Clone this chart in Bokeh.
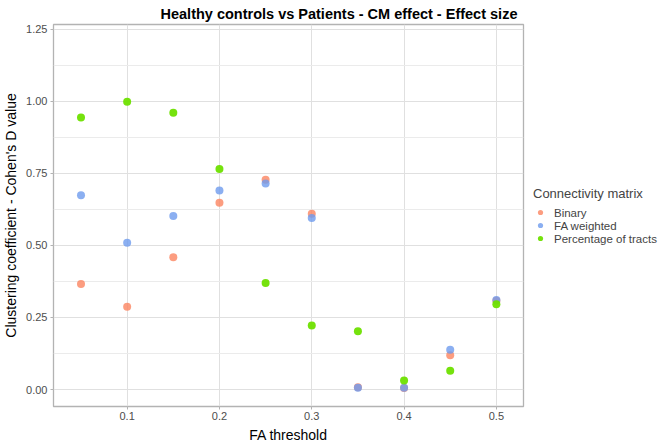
from bokeh.plotting import figure
from bokeh.models import (FixedTicker, PrintfTickFormatter, Legend, LegendItem, Range1d, Title)
from bokeh.embed import file_html
from bokeh.resources import INLINE

fa_threshold = [0.05, 0.1, 0.15, 0.2, 0.25, 0.3, 0.35, 0.4, 0.45, 0.5]
binary = [0.366, 0.287, 0.459, 0.648, 0.728, 0.610, 0.008, 0.005, 0.119, 0.308]
fa_weighted = [0.674, 0.509, 0.602, 0.691, 0.715, 0.595, 0.006, 0.006, 0.138, 0.311]
percentage = [0.944, 0.999, 0.961, 0.765, 0.370, 0.222, 0.202, 0.031, 0.065, 0.296]
series_names = ["Binary", "FA weighted", "Percentage of tracts"]
x_ticks = [0.1, 0.2, 0.3, 0.4, 0.5]
y_ticks = [0.0, 0.25, 0.5, 0.75, 1.0, 1.25]

colors = ["#FB8560", "#6E9BEE", "#6EE000"]
alphas = [0.8, 0.8, 0.95]

p = figure(frame_width=470, frame_height=382, output_backend="svg", toolbar_location=None,
           x_range=Range1d(0.0202, 0.5294), y_range=Range1d(-0.059, 1.267),
           min_border_left=0, min_border_right=0, min_border_top=0, min_border_bottom=0)

p.title = Title(text="Healthy controls vs Patients - CM effect - Effect size",
                text_font="Liberation Sans", text_font_size="14.5px", text_font_style="bold",
                text_color="#000000", align="left", offset=107, standoff=6)

rs = []
for ys, c, a in zip([binary, fa_weighted, percentage], colors, alphas):
    r = p.scatter(fa_threshold, ys, size=8, fill_color=c, line_color=None, fill_alpha=a)
    rs.append(r)

p.outline_line_color = "#B3B3B3"
p.outline_line_width = 1.3
p.background_fill_color = "white"
p.border_fill_color = "white"

p.xaxis.ticker = FixedTicker(ticks=x_ticks)
p.yaxis.ticker = FixedTicker(ticks=y_ticks, minor_ticks=[0.125, 0.375, 0.625, 0.875, 1.125])
p.xaxis.formatter = PrintfTickFormatter(format="%.1f")
p.yaxis.formatter = PrintfTickFormatter(format="%.2f")

for ax in (p.xaxis, p.yaxis):
    ax.axis_line_color = None
    ax.major_tick_line_color = "#B3B3B3"
    ax.major_tick_out = 3
    ax.major_tick_in = 0
    ax.minor_tick_line_color = None
    ax.major_label_text_font = "Liberation Sans"
    ax.major_label_text_font_size = "11px"
    ax.major_label_text_color = "#4D4D4D"
    ax.major_label_standoff = 2
    ax.axis_label_text_font = "Liberation Sans"
    ax.axis_label_text_font_size = "14px"
    ax.axis_label_text_font_style = "normal"
    ax.axis_label_text_color = "#000000"
    ax.axis_label_standoff = 4

p.xaxis.axis_label = "FA threshold"
p.yaxis.axis_label = "Clustering coefficient - Cohen's D value"

p.xgrid.grid_line_color = "#E0E0E0"
p.ygrid.grid_line_color = "#E0E0E0"
p.ygrid.minor_grid_line_color = "#EBEBEB"

legend = Legend(items=[LegendItem(label=n, renderers=[r]) for n, r in zip(series_names, rs)],
                location="center_left", title="Connectivity matrix",
                title_text_font="Liberation Sans", title_text_font_size="13px",
                title_text_font_style="normal", title_standoff=5,
                label_text_font="Liberation Sans", label_text_font_size="11.5px",
                label_height=13, glyph_height=13, glyph_width=14, label_standoff=7,
                spacing=0, padding=0, margin=10,
                background_fill_alpha=0, border_line_color=None)
p.add_layout(legend, "right")

open("out.html", "w").write(file_html(p, INLINE))
